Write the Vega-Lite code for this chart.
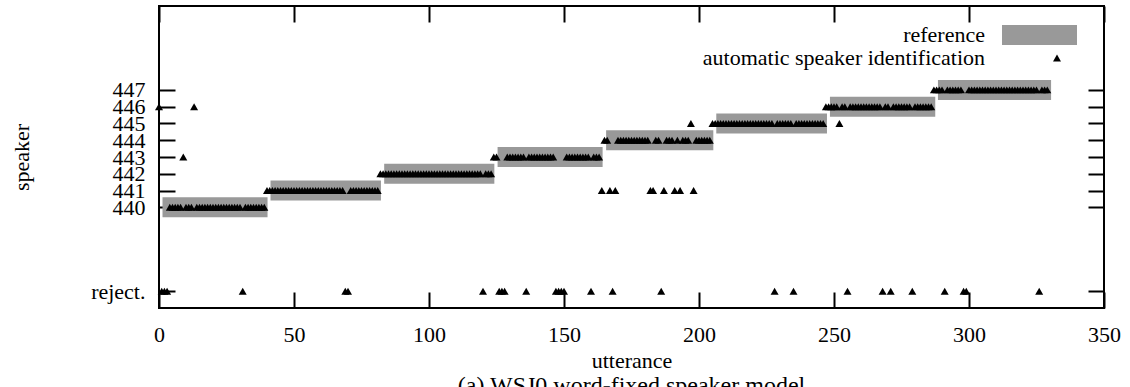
{
"$schema": "https://vega.github.io/schema/vega-lite/v6.json",
"width": 945, "height": 302,
"autosize": {"type": "none"},
"padding": {"left": 159, "top": 6, "right": 26, "bottom": 79},
"background": "white",
"title": {"text": "(a) WSJ0 word-fixed speaker model", "orient": "bottom", "anchor": "middle", "offset": 3,
  "font": "Liberation Serif", "fontSize": 24, "fontWeight": "normal", "color": "black", "baseline": "top"},
"config": {
  "view": {"stroke": "black", "strokeWidth": 2},
  "font": "Liberation Serif",
  "axis": {"domain": false, "grid": false, "ticks": true, "tickSize": -16, "tickWidth": 2, "tickColor": "black",
    "labelFont": "Liberation Serif", "labelFontSize": 22, "labelColor": "black", "labelOverlap": false, "labelFlush": false,
    "titleFont": "Liberation Serif", "titleFontSize": 22, "titleFontWeight": "normal", "titleColor": "black"},
  "legend": {"labelFont": "Liberation Serif", "labelFontSize": 22, "labelColor": "black", "labelLimit": 500, "title": null}
},
"datasets": {
  "ref": [
    {"start": 1.3, "end": 40.2, "speaker": 440},
    {"start": 41.3, "end": 82.2, "speaker": 441},
    {"start": 83.4, "end": 124.2, "speaker": 442},
    {"start": 125.4, "end": 164.3, "speaker": 443},
    {"start": 165.6, "end": 205.3, "speaker": 444},
    {"start": 206.4, "end": 247.4, "speaker": 445},
    {"start": 248.5, "end": 287.5, "speaker": 446},
    {"start": 288.5, "end": 330.4, "speaker": 447}
  ],
  "auto": [
{"u":0,"s":446},{"u":1,"s":435},{"u":2,"s":435},{"u":3,"s":435},{"u":4,"s":440},{"u":5,"s":440},{"u":6,"s":440},{"u":7,"s":440},{"u":8,"s":440},{"u":9,"s":443},
{"u":10,"s":440},{"u":11,"s":440},{"u":12,"s":440},{"u":13,"s":446},{"u":14,"s":440},{"u":15,"s":440},{"u":16,"s":440},{"u":17,"s":440},{"u":18,"s":440},{"u":19,"s":440},
{"u":20,"s":440},{"u":21,"s":440},{"u":22,"s":440},{"u":23,"s":440},{"u":24,"s":440},{"u":25,"s":440},{"u":26,"s":440},{"u":27,"s":440},{"u":28,"s":440},{"u":29,"s":440},
{"u":30,"s":440},{"u":31,"s":435},{"u":32,"s":440},{"u":33,"s":440},{"u":34,"s":440},{"u":35,"s":440},{"u":36,"s":440},{"u":37,"s":440},{"u":38,"s":440},{"u":39,"s":440},
{"u":40,"s":441},{"u":41,"s":441},{"u":42,"s":441},{"u":43,"s":441},{"u":44,"s":441},{"u":45,"s":441},{"u":46,"s":441},{"u":47,"s":441},{"u":48,"s":441},{"u":49,"s":441},
{"u":50,"s":441},{"u":51,"s":441},{"u":52,"s":441},{"u":53,"s":441},{"u":54,"s":441},{"u":55,"s":441},{"u":56,"s":441},{"u":57,"s":441},{"u":58,"s":441},{"u":59,"s":441},
{"u":60,"s":441},{"u":61,"s":441},{"u":62,"s":441},{"u":63,"s":441},{"u":64,"s":441},{"u":65,"s":441},{"u":66,"s":441},{"u":67,"s":441},{"u":68,"s":441},{"u":69,"s":435},
{"u":70,"s":435},{"u":71,"s":441},{"u":72,"s":441},{"u":73,"s":441},{"u":74,"s":441},{"u":75,"s":441},{"u":76,"s":441},{"u":77,"s":441},{"u":78,"s":441},{"u":79,"s":441},
{"u":80,"s":441},{"u":81,"s":441},{"u":82,"s":442},{"u":83,"s":442},{"u":84,"s":442},{"u":85,"s":442},{"u":86,"s":442},{"u":87,"s":442},{"u":88,"s":442},{"u":89,"s":442},
{"u":90,"s":442},{"u":91,"s":442},{"u":92,"s":442},{"u":93,"s":442},{"u":94,"s":442},{"u":95,"s":442},{"u":96,"s":442},{"u":97,"s":442},{"u":98,"s":442},{"u":99,"s":442},
{"u":100,"s":442},{"u":101,"s":442},{"u":102,"s":442},{"u":103,"s":442},{"u":104,"s":442},{"u":105,"s":442},{"u":106,"s":442},{"u":107,"s":442},{"u":108,"s":442},{"u":109,"s":442},
{"u":110,"s":442},{"u":111,"s":442},{"u":112,"s":442},{"u":113,"s":442},{"u":114,"s":442},{"u":115,"s":442},{"u":116,"s":442},{"u":117,"s":442},{"u":118,"s":442},{"u":119,"s":442},
{"u":120,"s":435},{"u":121,"s":442},{"u":122,"s":442},{"u":123,"s":442},{"u":124,"s":443},{"u":125,"s":443},{"u":126,"s":435},{"u":127,"s":435},{"u":128,"s":435},{"u":129,"s":443},
{"u":130,"s":443},{"u":131,"s":443},{"u":132,"s":443},{"u":133,"s":443},{"u":134,"s":443},{"u":135,"s":443},{"u":136,"s":435},{"u":137,"s":443},{"u":138,"s":443},{"u":139,"s":443},
{"u":140,"s":443},{"u":141,"s":443},{"u":142,"s":443},{"u":143,"s":443},{"u":144,"s":443},{"u":145,"s":443},{"u":146,"s":443},{"u":147,"s":435},{"u":148,"s":435},{"u":149,"s":435},
{"u":150,"s":435},{"u":151,"s":443},{"u":152,"s":443},{"u":153,"s":443},{"u":154,"s":443},{"u":155,"s":443},{"u":156,"s":443},{"u":157,"s":443},{"u":158,"s":443},{"u":159,"s":443},
{"u":160,"s":435},{"u":161,"s":443},{"u":162,"s":443},{"u":163,"s":443},{"u":164,"s":441},{"u":165,"s":444},{"u":166,"s":444},{"u":167,"s":441},{"u":168,"s":435},{"u":169,"s":441},
{"u":170,"s":444},{"u":171,"s":444},{"u":172,"s":444},{"u":173,"s":444},{"u":174,"s":444},{"u":175,"s":444},{"u":176,"s":444},{"u":177,"s":444},{"u":178,"s":444},{"u":179,"s":444},
{"u":180,"s":444},{"u":181,"s":444},{"u":182,"s":441},{"u":183,"s":441},{"u":184,"s":444},{"u":185,"s":444},{"u":186,"s":435},{"u":187,"s":441},{"u":188,"s":444},{"u":189,"s":444},
{"u":190,"s":444},{"u":191,"s":441},{"u":192,"s":444},{"u":193,"s":441},{"u":194,"s":444},{"u":195,"s":444},{"u":196,"s":444},{"u":197,"s":445},{"u":198,"s":441},{"u":199,"s":444},
{"u":200,"s":444},{"u":201,"s":444},{"u":202,"s":444},{"u":203,"s":444},{"u":204,"s":444},{"u":205,"s":445},{"u":206,"s":445},{"u":207,"s":445},{"u":208,"s":445},{"u":209,"s":445},
{"u":210,"s":445},{"u":211,"s":445},{"u":212,"s":445},{"u":213,"s":445},{"u":214,"s":445},{"u":215,"s":445},{"u":216,"s":445},{"u":217,"s":445},{"u":218,"s":445},{"u":219,"s":445},
{"u":220,"s":445},{"u":221,"s":445},{"u":222,"s":445},{"u":223,"s":445},{"u":224,"s":445},{"u":225,"s":445},{"u":226,"s":445},{"u":227,"s":445},{"u":228,"s":435},{"u":229,"s":445},
{"u":230,"s":445},{"u":231,"s":445},{"u":232,"s":445},{"u":233,"s":445},{"u":234,"s":445},{"u":235,"s":435},{"u":236,"s":445},{"u":237,"s":445},{"u":238,"s":445},{"u":239,"s":445},
{"u":240,"s":445},{"u":241,"s":445},{"u":242,"s":445},{"u":243,"s":445},{"u":244,"s":445},{"u":245,"s":445},{"u":246,"s":445},{"u":247,"s":446},{"u":248,"s":446},{"u":249,"s":446},
{"u":250,"s":446},{"u":251,"s":446},{"u":252,"s":445},{"u":253,"s":446},{"u":254,"s":446},{"u":255,"s":435},{"u":256,"s":446},{"u":257,"s":446},{"u":258,"s":446},{"u":259,"s":446},
{"u":260,"s":446},{"u":261,"s":446},{"u":262,"s":446},{"u":263,"s":446},{"u":264,"s":446},{"u":265,"s":446},{"u":266,"s":446},{"u":267,"s":446},{"u":268,"s":435},{"u":269,"s":446},
{"u":270,"s":446},{"u":271,"s":435},{"u":272,"s":446},{"u":273,"s":446},{"u":274,"s":446},{"u":275,"s":446},{"u":276,"s":446},{"u":277,"s":446},{"u":278,"s":446},{"u":279,"s":435},
{"u":280,"s":446},{"u":281,"s":446},{"u":282,"s":446},{"u":283,"s":446},{"u":284,"s":446},{"u":285,"s":446},{"u":286,"s":446},{"u":287,"s":447},{"u":288,"s":447},{"u":289,"s":447},
{"u":290,"s":447},{"u":291,"s":435},{"u":292,"s":447},{"u":293,"s":447},{"u":294,"s":447},{"u":295,"s":447},{"u":296,"s":447},{"u":297,"s":447},{"u":298,"s":435},{"u":299,"s":435},
{"u":300,"s":447},{"u":301,"s":447},{"u":302,"s":447},{"u":303,"s":447},{"u":304,"s":447},{"u":305,"s":447},{"u":306,"s":447},{"u":307,"s":447},{"u":308,"s":447},{"u":309,"s":447},
{"u":310,"s":447},{"u":311,"s":447},{"u":312,"s":447},{"u":313,"s":447},{"u":314,"s":447},{"u":315,"s":447},{"u":316,"s":447},{"u":317,"s":447},{"u":318,"s":447},{"u":319,"s":447},
{"u":320,"s":447},{"u":321,"s":447},{"u":322,"s":447},{"u":323,"s":447},{"u":324,"s":447},{"u":325,"s":447},{"u":326,"s":435},{"u":327,"s":447},{"u":328,"s":447},{"u":329,"s":447}
  ]
},
"layer": [
  {
    "data": {"name": "ref"},
    "mark": {"type": "rule", "strokeWidth": 20, "strokeCap": "butt"},
    "encoding": {
      "x": {"field": "start", "type": "quantitative",
        "scale": {"domain": [0, 350], "nice": false, "zero": false},
        "axis": {"orient": "bottom", "values": [0, 50, 100, 150, 200, 250, 300, 350], "labelPadding": 32,
          "title": "utterance", "titleBaseline": "alphabetic", "titleY": 59}},
      "x2": {"field": "end"},
      "y": {"field": "speaker", "type": "quantitative",
        "scale": {"domain": [434, 452], "nice": false, "zero": false},
        "axis": {"orient": "left", "values": [435, 440, 441, 442, 443, 444, 445, 446, 447], "labelPadding": 30,
          "labelExpr": "datum.value == 435 ? 'reject.' : datum.label",
          "title": "speaker", "titleAngle": -90, "titleBaseline": "middle", "titleAlign": "center", "titleX": -138, "titleY": 151}},
      "color": {"datum": "reference", "type": "nominal",
        "scale": {"domain": ["reference"], "range": ["#999999"]},
        "legend": {"orient": "none", "legendX": 833, "legendY": -18.5, "direction": "vertical",
          "symbolType": "stroke", "symbolSize": 5625, "symbolStrokeWidth": 20, "symbolStrokeColor": "#999999",
          "padding": 0, "labelAlign": "right", "labelOffset": -102}}
    }
  },
  {
    "data": {"name": "auto"},
    "mark": {"type": "point", "filled": true, "size": 64, "opacity": 1, "color": "black"},
    "encoding": {
      "x": {"field": "u", "type": "quantitative",
        "axis": {"orient": "top", "values": [0, 50, 100, 150, 200, 250, 300, 350], "labels": false, "title": null}},
      "y": {"field": "s", "type": "quantitative",
        "axis": {"orient": "right", "values": [435, 440, 441, 442, 443, 444, 445, 446, 447], "labels": false, "title": null}},
      "shape": {"datum": "automatic speaker identification", "type": "nominal",
        "scale": {"domain": ["automatic speaker identification"], "range": ["triangle-up"]},
        "legend": {"orient": "none", "legendX": 887, "legendY": 41, "direction": "vertical",
          "symbolSize": 64, "symbolFillColor": "black", "symbolStrokeWidth": 0, "symbolOpacity": 1,
          "padding": 0, "labelAlign": "right", "labelOffset": -83}}
    }
  }
],
"resolve": {"axis": {"x": "independent", "y": "independent"}}
}
